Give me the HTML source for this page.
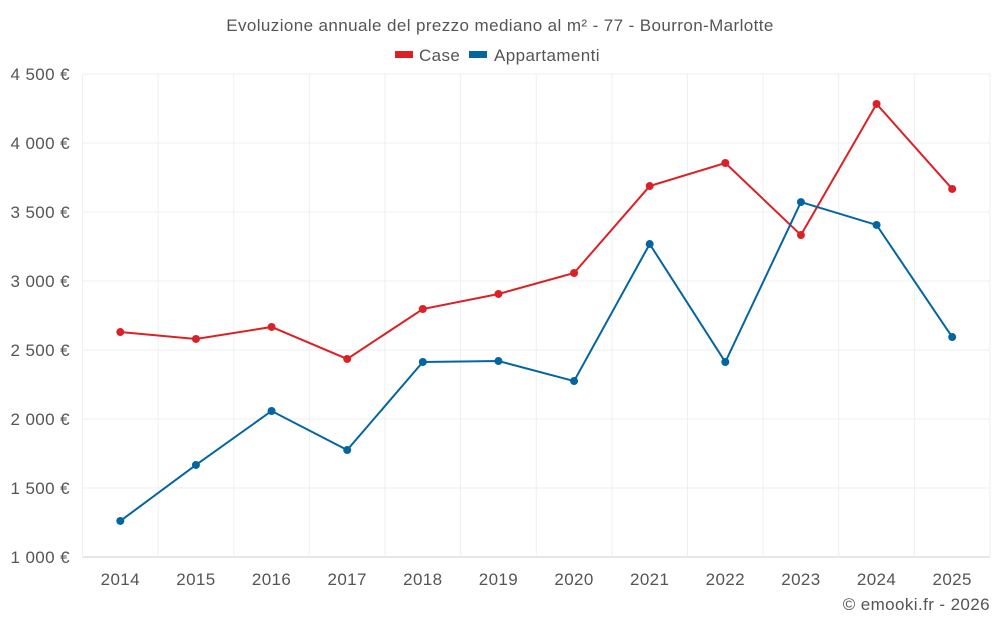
<!DOCTYPE html>
<html><head><meta charset="utf-8"><style>
body{margin:0;background:#fff;font-family:"Liberation Sans",sans-serif;}
svg text{font-family:"Liberation Sans",sans-serif;letter-spacing:0.4px;}
</style></head><body>
<svg id="c" width="1000" height="625">
<text x="500" y="31" text-anchor="middle" font-size="17" fill="#555">Evoluzione annuale del prezzo mediano al m² - 77 - Bourron-Marlotte</text>
<g>
<g><rect x="395" y="51" width="18" height="7" fill="#dc2126"/><text x="419" y="61" font-size="17" fill="#555">Case</text></g>
<g><rect x="469" y="51" width="18" height="7" fill="#0565a0"/><text x="494" y="61" font-size="17" fill="#555">Appartamenti</text></g>
</g>
<g id="grid"></g>
<g id="axes"></g>
<g id="series"></g>
<text x="990" y="610" text-anchor="end" font-size="17" fill="#555">© emooki.fr - 2026</text>
</svg>
<script>
const years=["2014","2015","2016","2017","2018","2019","2020","2021","2022","2023","2024","2025"];
const caseValues=[2630,2580,2667,2435,2797,2906,3058,3688,3855,3333,4283,3667];
const apptValues=[1261,1667,2058,1775,2413,2420,2275,3268,2413,3572,3406,2594];
const yTicks=[1000,1500,2000,2500,3000,3500,4000,4500];
const yTickLabels=["1 000 €","1 500 €","2 000 €","2 500 €","3 000 €","3 500 €","4 000 €","4 500 €"];
const L=82.5,R=990,T=74,B=557,yMin=1000,yMax=4500;
const bw=(R-L)/years.length;
const x=i=>L+bw*(i+0.5);
const y=v=>B-(v-yMin)/(yMax-yMin)*(B-T);
const NS="http://www.w3.org/2000/svg";
function mk(tag,attrs,parent){const e=document.createElementNS(NS,tag);for(const k in attrs)e.setAttribute(k,attrs[k]);document.getElementById(parent).appendChild(e);return e;}
yTicks.forEach((t,i)=>{
 const g=mk('line',{x1:L,x2:R,y1:y(t),y2:y(t),stroke:i==0?'#ccc':'#efefef'},'grid');
 
 
 const tx=mk('text',{x:70,y:y(t)+6,'text-anchor':'end','font-size':17,fill:'#555'},'axes');
 tx.textContent=yTickLabels[i];
 
 
});
for(let i=0;i<=years.length;i++){
 const g=mk('line',{x1:L+bw*i,x2:L+bw*i,y1:T,y2:B,stroke:'#efefef'},'grid');
 
 
}
years.forEach((yr,i)=>{
 const tx=mk('text',{x:x(i),y:585,'text-anchor':'middle','font-size':17,fill:'#555'},'axes');
 tx.textContent=yr;
 
 
});
function series(vals,color,name){
 const p=mk('polyline',{points:vals.map((v,i)=>x(i)+','+y(v)).join(' '),fill:'none',stroke:color,'stroke-width':2},'series');
 
 
 vals.forEach((v,i)=>{
  const c=mk('circle',{cx:x(i),cy:y(v),r:4,fill:color},'series');
  
  
 });
}
series(caseValues,'#dc2126','case');
series(apptValues,'#0565a0','appartamenti');
</script>
</body></html>
